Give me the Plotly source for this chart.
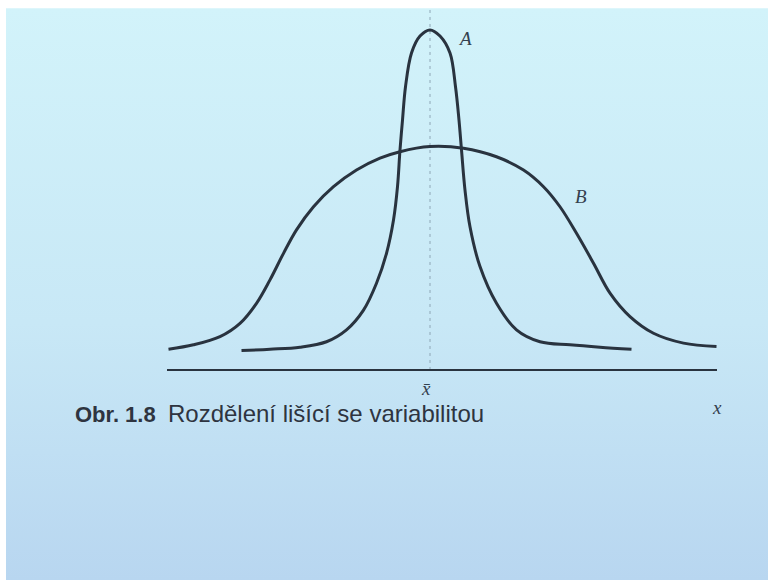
import plotly.graph_objects as go

# Curve A: narrow distribution (small variability), x in deviation units from the mean
a_x = [-3.77, -3.20, -2.60, -2.07, -1.67, -1.33, -1.07, -0.87, -0.73, -0.65, -0.60,
       -0.55, -0.49, -0.37, -0.20, 0.00, 0.20, 0.40, 0.51, 0.58, 0.63, 0.70, 0.80,
       1.00, 1.33, 1.73, 2.20, 2.80, 3.40, 4.03]
a_y = [0.057, 0.061, 0.067, 0.083, 0.118, 0.176, 0.255, 0.343, 0.441, 0.539, 0.647,
       0.735, 0.833, 0.932, 0.982, 1.000, 0.982, 0.932, 0.833, 0.735, 0.647, 0.529,
       0.421, 0.304, 0.196, 0.118, 0.083, 0.074, 0.067, 0.061]

# Curve B: wide distribution (large variability)
b_x = [-5.23, -4.73, -4.20, -3.80, -3.47, -3.20, -2.93, -2.67, -2.33, -1.93, -1.47,
       -1.00, -0.60, 0.00, 0.67, 1.33, 1.87, 2.27, 2.60, 2.93, 3.27, 3.60, 4.00,
       4.47, 5.07, 5.73]
b_y = [0.061, 0.074, 0.098, 0.137, 0.196, 0.265, 0.343, 0.412, 0.480, 0.539, 0.588,
       0.623, 0.642, 0.657, 0.652, 0.627, 0.588, 0.539, 0.480, 0.402, 0.314, 0.226,
       0.157, 0.108, 0.079, 0.069]

# Horizontal x axis and the mean marker
axis_x = [-5.26, 5.74]
mean_x = 0.0
mean_top = 1.065

X_RANGE = [-8.6, 6.76]
Y_RANGE = [-0.6176, 1.088]

INK = "#29333f"

fig = go.Figure()

# page background: soft vertical tint of the paper
fig.add_trace(go.Scatter(
    x=[-8.48, 6.76, 6.76, -8.48, -8.48],
    y=[-0.6176, -0.6176, 1.064, 1.064, -0.6176],
    mode="lines", line=dict(width=0), fill="toself",
    fillgradient=dict(type="vertical",
                      colorscale=[[0, "#b8d6f0"], [0.45, "#c8e8f6"], [1, "#d2f3fa"]]),
    hoverinfo="skip", showlegend=False,
))

# dashed mean line
fig.add_trace(go.Scatter(
    x=[mean_x, mean_x], y=[0, mean_top], mode="lines",
    line=dict(color="#8ea6b6", width=1, dash="3px,4px"),
    hoverinfo="skip", showlegend=False,
))

# baseline
fig.add_trace(go.Scatter(
    x=axis_x, y=[0, 0], mode="lines",
    line=dict(color=INK, width=2),
    hoverinfo="skip", showlegend=False,
))

for xs, ys in ((b_x, b_y), (a_x, a_y)):
    fig.add_trace(go.Scatter(
        x=xs, y=ys, mode="lines",
        line=dict(color=INK, width=3, shape="spline", smoothing=1.0),
        hoverinfo="skip", showlegend=False,
    ))

serif = dict(family="Liberation Serif, DejaVu Serif, serif", size=19, color="#34404e")
sans = "Liberation Sans, Arial, sans-serif"
annotations = [
    dict(x=0.70, y=0.976, text="<i>A</i>", showarrow=False, font=serif),
    dict(x=3.02, y=0.509, text="<i>B</i>", showarrow=False, font=serif),
    dict(x=mean_x - 0.08, y=-0.091, yanchor="bottom", text="<i>x̄</i>",
         showarrow=False, font=serif),
    dict(x=5.74, y=-0.11, text="<i>x</i>", showarrow=False, font=serif),
    dict(x=73 / 768, y=1 - 413 / 580, xref="paper", yref="paper",
         xanchor="left", yanchor="middle", showarrow=False,
         text="<b>Obr. 1.8</b>  <span style='font-size:24px'>"
              "Rozdělení lišící se variabilitou</span>",
         font=dict(family=sans, size=22, color="#2e3440")),
]

fig.update_layout(
    width=768, height=580,
    margin=dict(l=0, r=0, t=0, b=0),
    paper_bgcolor="#ffffff",
    plot_bgcolor="rgba(0,0,0,0)",
    xaxis=dict(range=X_RANGE, visible=False, fixedrange=True),
    yaxis=dict(range=Y_RANGE, visible=False, fixedrange=True),
    annotations=annotations,
    showlegend=False,
)

fig.write_html("out.html")
